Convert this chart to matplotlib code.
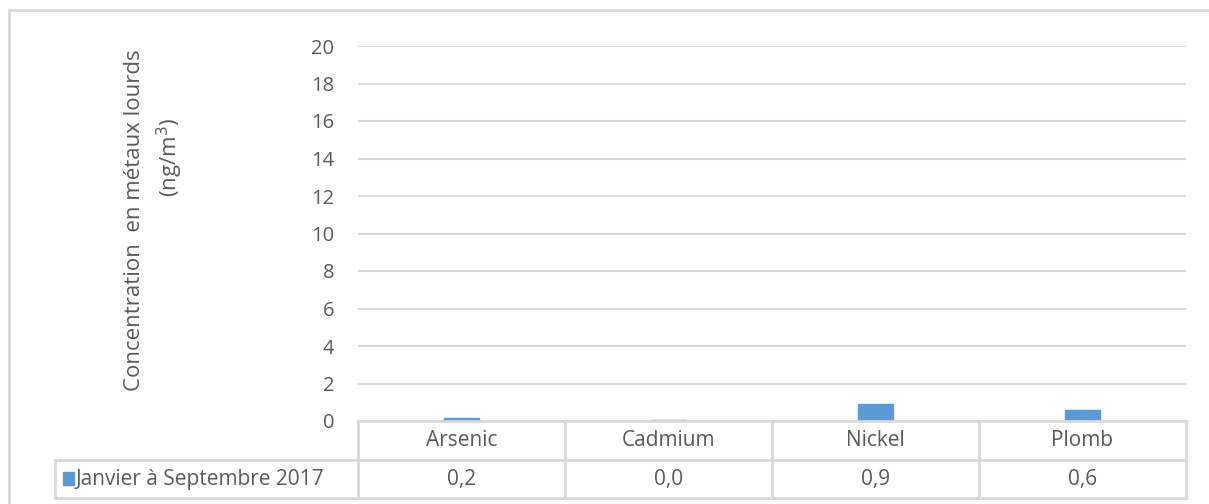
import matplotlib.pyplot as plt
from matplotlib.patches import Rectangle

plt.rcParams['font.family'] = ['Open Sans', 'DejaVu Sans']

metaux = ["Arsenic", "Cadmium", "Nickel", "Plomb"]
concentrations = [0.16, 0.049, 0.9, 0.6]
serie = "Janvier à Septembre 2017"
yticks = [0, 2, 4, 6, 8, 10, 12, 14, 16, 18, 20]

bleu = "#5b9bd5"
gris_txt = "#595959"
gris_trait = "#d9d9d9"

W, H = 1209, 504
fig = plt.figure(figsize=(W / 100, H / 100), dpi=100)

# cadre du graphique
fig.patches.append(Rectangle((9 / W, -0.05), 1.2, 1 - 10 / H + 0.05,
                             transform=fig.transFigure, fill=False,
                             edgecolor=gris_trait, linewidth=2))

ax = fig.add_axes([358 / W, 1 - 421 / H, 828 / W, 375 / H])
x = list(range(len(metaux)))
ax.bar(x, concentrations, width=0.165, color=bleu, edgecolor=bleu,
       linewidth=1.0, zorder=3)
ax.set_xlim(-0.5, len(metaux) - 0.5)
ax.set_ylim(0, 20)
ax.set_yticks(yticks)
ax.set_yticklabels([str(t) for t in yticks], fontsize=14.5, color=gris_txt)
ax.set_xticks([])
ax.tick_params(axis="y", length=0, pad=17)
ax.grid(axis="y", color=gris_trait, linewidth=1.5, zorder=0)
for s in ax.spines.values():
    s.set_visible(False)

# titre de l'axe, deux lignes
fig.text(135 / W, 1 - 220 / H, "Concentration  en métaux lourds", rotation=90,
         ha="center", va="center", fontsize=16, color=gris_txt)
fig.text(170 / W, 1 - 157 / H, "(ng/m$^3$)", rotation=90,
         ha="center", va="center", fontsize=16, color=gris_txt)

# tableau de données sous le graphique
unite = 828 / len(metaux)
gauche = -0.5 - 303 / unite
tx = fig.add_axes([55 / W, 1 - 498 / H, 1131 / W, 77 / H])
tx.set_xlim(gauche, len(metaux) - 0.5)
tx.set_ylim(0, 77)
tx.axis("off")
lw = 2
y_mil = 77 - 39
# lignes horizontales
tx.plot([-0.5, len(metaux) - 0.5], [77, 77], color=gris_trait, lw=lw, clip_on=False)
tx.plot([gauche, len(metaux) - 0.5], [y_mil, y_mil], color=gris_trait, lw=lw, clip_on=False)
tx.plot([gauche, len(metaux) - 0.5], [0, 0], color=gris_trait, lw=lw, clip_on=False)
# lignes verticales
tx.plot([gauche, gauche], [0, y_mil], color=gris_trait, lw=lw, clip_on=False)
for i in range(len(metaux) + 1):
    tx.plot([i - 0.5, i - 0.5], [0, 77], color=gris_trait, lw=lw, clip_on=False)

valeurs = [f"{v:.1f}".replace(".", ",") for v in concentrations]
for i, (m, v) in enumerate(zip(metaux, valeurs)):
    tx.text(i, (77 + y_mil) / 2, m, ha="center", va="center",
            fontsize=15, color=gris_txt)
    tx.text(i, y_mil / 2, v, ha="center", va="center",
            fontsize=15, color=gris_txt)

tx.text(gauche + 21 / unite, y_mil / 2, serie, ha="left", va="center",
        fontsize=15, color=gris_txt)
tx.add_patch(Rectangle((gauche + 8 / unite, y_mil / 2 - 6), 11 / unite, 13,
                       color=bleu, clip_on=False))

fig.savefig("out.png", dpi=100)
